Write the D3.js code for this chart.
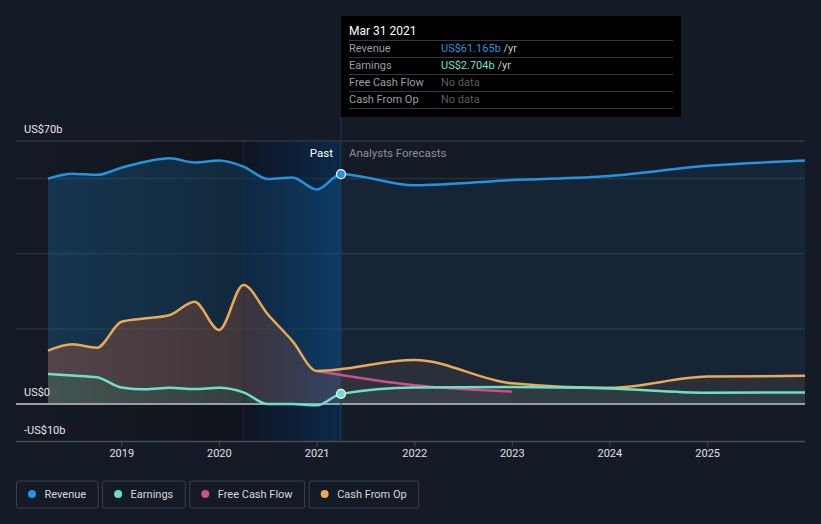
<!DOCTYPE html>
<html>
<head>
<meta charset="utf-8">
<script src="https://cdn.jsdelivr.net/npm/d3@7"></script>
<style>
  html, body { margin: 0; padding: 0; background: #151b26; }
  svg { display: block; font-family: Roboto, "Noto Sans", sans-serif; }
</style>
</head>
<body>
<svg width="821" height="524"></svg>
<script>
// Past quarters (trailing twelve months)
var pastDates = ["2018-03-31", "2018-06-30", "2018-09-30", "2018-12-31", "2019-03-31", "2019-06-30",
  "2019-09-30", "2019-12-31", "2020-03-31", "2020-06-30", "2020-09-30", "2020-12-31", "2021-03-31"];
var revenuePast = [60.0, 61.3, 61.0, 62.9, 64.5, 65.4, 64.3, 64.8, 63.2, 59.9, 60.3, 57.1, 61.165];
var earningsPast = [8.0, 7.6, 7.1, 4.4, 3.9, 4.3, 4.0, 4.3, 3.1, 0.0, 0.0, -0.35, 2.704];
var cfoPast = [14.2, 15.9, 15.0, 21.9, 22.8, 23.7, 27.2, 19.7, 31.7, 23.9, 16.8, 8.8];

// Analyst forecasts
var forecastDates = ["2021-12-31", "2022-12-31", "2023-12-31", "2024-12-31", "2025-12-31"];
var revenueForecast = [58.2, 59.6, 60.7, 63.4, 64.8];
var earningsForecast = [4.4, 4.5, 4.1, 3.0, 3.1];
var cfoForecast = [11.7, 5.5, 4.3, 7.3, 7.5];
var fcfDates = ["2020-12-31", "2021-12-31", "2022-12-31"];
var fcfForecast = [8.8, 5.0, 3.3];

var yTicks = [-10, 0, 70];
var yTickLabels = ["-US$10b", "US$0", "US$70b"];
var gridValues = [20, 40, 60];
var xTickYears = [2019, 2020, 2021, 2022, 2023, 2024, 2025];

var colors = {revenue: "#2394df", earnings: "#6fe0c8", fcf: "#d04e8a", cfo: "#e9a957"};

var parse = d3.timeParse("%Y-%m-%d");
var nowDate = parse("2021-03-31");
var bandStart = parse("2020-03-31");

function series(dates, values) {
  return dates.map(function(d, i) { return {date: parse(d), value: values[i]}; });
}

var revenue = series(pastDates.concat(forecastDates), revenuePast.concat(revenueForecast));
var earnings = series(pastDates.concat(forecastDates), earningsPast.concat(earningsForecast));
var cfo = series(pastDates.slice(0, cfoPast.length).concat(forecastDates), cfoPast.concat(cfoForecast));
var fcf = series(fcfDates, fcfForecast);

var svg = d3.select("svg");
var left = 16, right = 805;

var x = d3.scaleTime()
  .domain([parse("2018-03-31"), parse("2025-12-31")])
  .range([48, 805]);
var y = d3.scaleLinear().domain([-10, 70]).range([441.6, 141]);

var defs = svg.append("defs");
defs.append("clipPath").attr("id", "pastClip").append("rect")
  .attr("x", 0).attr("y", 0).attr("width", x(nowDate)).attr("height", 524);
defs.append("clipPath").attr("id", "futureClip").append("rect")
  .attr("x", x(nowDate)).attr("y", 0).attr("width", 821 - x(nowDate)).attr("height", 524);

var darkGrad = defs.append("linearGradient").attr("id", "darkGrad");
darkGrad.append("stop").attr("offset", "0%").attr("stop-color", "#000").attr("stop-opacity", 0.04);
darkGrad.append("stop").attr("offset", "100%").attr("stop-color", "#000").attr("stop-opacity", 0.28);

var bandGrad = defs.append("linearGradient").attr("id", "bandGrad");
bandGrad.append("stop").attr("offset", "0%").attr("stop-color", "rgb(0,10,30)").attr("stop-opacity", 0.35);
bandGrad.append("stop").attr("offset", "100%").attr("stop-color", "rgb(0,62,125)").attr("stop-opacity", 0.42);

// gridlines
svg.selectAll(".grid")
  .data(gridValues)
  .enter()
  .append("line")
    .attr("class", "grid")
    .attr("x1", left).attr("x2", right)
    .attr("y1", function(d) { return y(d); })
    .attr("y2", function(d) { return y(d); })
    .attr("stroke", "#25303d")
    .attr("stroke-width", 1.5);

var area = function(data) {
  return d3.area()
    .x(function(d) { return x(d.date); })
    .y0(y(0))
    .y1(function(d) { return y(d.value); })
    .curve(d3.curveMonotoneX)(data);
};
var line = d3.line()
  .x(function(d) { return x(d.date); })
  .y(function(d) { return y(d.value); })
  .curve(d3.curveMonotoneX);

// past areas
var past = svg.append("g").attr("clip-path", "url(#pastClip)");
past.append("path").attr("d", area(revenue)).attr("fill", colors.revenue).attr("opacity", 0.25);
past.append("path").attr("d", area(cfo)).attr("fill", "#d46a48").attr("opacity", 0.35);
past.append("path").attr("d", area(earnings)).attr("fill", "#3a6a60").attr("opacity", 0.5);

// forecast areas
var future = svg.append("g").attr("clip-path", "url(#futureClip)");
future.append("path").attr("d", area(revenue)).attr("fill", colors.revenue).attr("opacity", 0.09);
future.append("path").attr("d", area(cfo)).attr("fill", colors.cfo).attr("opacity", 0.09);
future.append("path").attr("d", area(fcf)).attr("fill", colors.fcf).attr("opacity", 0.05);
future.append("path").attr("d", area(earnings)).attr("fill", colors.earnings).attr("opacity", 0.07);

// past shading and last-year band
svg.append("rect")
  .attr("x", left).attr("y", y(70))
  .attr("width", x(bandStart) - left).attr("height", y(-10) - y(70))
  .attr("fill", "url(#darkGrad)");
svg.append("rect")
  .attr("x", x(bandStart)).attr("y", y(70))
  .attr("width", x(nowDate) - x(bandStart)).attr("height", y(-10) - y(70))
  .attr("fill", "url(#bandGrad)");
svg.append("line")
  .attr("x1", x(bandStart)).attr("x2", x(bandStart))
  .attr("y1", y(70)).attr("y2", y(-10))
  .attr("stroke", "#22324a").attr("stroke-width", 1).attr("opacity", 0.6);

// axis lines
svg.append("line")
  .attr("x1", left).attr("x2", right).attr("y1", y(70)).attr("y2", y(70))
  .attr("stroke", "#3a404a").attr("stroke-width", 1);
svg.append("line")
  .attr("x1", left).attr("x2", right).attr("y1", y(0)).attr("y2", y(0))
  .attr("stroke", "#9a9ea5").attr("stroke-width", 2);
svg.append("line")
  .attr("x1", left).attr("x2", right).attr("y1", y(-10)).attr("y2", y(-10))
  .attr("stroke", "#464b54").attr("stroke-width", 1.5);

// now line
svg.append("line")
  .attr("x1", x(nowDate)).attr("x2", x(nowDate))
  .attr("y1", 117).attr("y2", y(-10))
  .attr("stroke", "#2a3b55").attr("stroke-width", 1);

// series lines
svg.append("path").attr("d", line(fcf)).attr("fill", "none")
  .attr("stroke", colors.fcf).attr("stroke-width", 2.5);
svg.append("path").attr("d", line(cfo)).attr("fill", "none")
  .attr("stroke", colors.cfo).attr("stroke-width", 2.5);
svg.append("path").attr("d", line(earnings)).attr("fill", "none")
  .attr("stroke", colors.earnings).attr("stroke-width", 2.5);
svg.append("path").attr("d", line(revenue)).attr("fill", "none")
  .attr("stroke", colors.revenue).attr("stroke-width", 2.5);

// markers at the hovered date
var markers = [
  {value: revenuePast[revenuePast.length - 1], color: colors.revenue},
  {value: earningsPast[earningsPast.length - 1], color: colors.earnings}
];
svg.selectAll(".marker")
  .data(markers)
  .enter()
  .append("circle")
    .attr("class", "marker")
    .attr("cx", x(nowDate))
    .attr("cy", function(d) { return y(d.value); })
    .attr("r", 4.5)
    .attr("fill", function(d) { return d.color; })
    .attr("stroke", "#fff")
    .attr("stroke-width", 1.2);

// y labels
svg.selectAll(".ylab")
  .data(yTicks)
  .enter()
  .append("text")
    .attr("class", "ylab")
    .attr("x", 24)
    .attr("y", function(d) { return y(d) - 8; })
    .attr("fill", "#e6e6e6")
    .attr("font-size", 11)
    .text(function(d, i) { return yTickLabels[i]; });

// x ticks
var xTicks = xTickYears.map(function(yr) { return new Date(yr, 0, 1); });
svg.selectAll(".xtick")
  .data(xTicks)
  .enter()
  .append("line")
    .attr("class", "xtick")
    .attr("x1", function(d) { return x(d); })
    .attr("x2", function(d) { return x(d); })
    .attr("y1", y(-10)).attr("y2", y(-10) + 5)
    .attr("stroke", "#464b54");
svg.selectAll(".xlab")
  .data(xTicks)
  .enter()
  .append("text")
    .attr("class", "xlab")
    .attr("x", function(d) { return x(d); })
    .attr("y", 457)
    .attr("text-anchor", "middle")
    .attr("fill", "#e0e0e0")
    .attr("font-size", 11)
    .text(d3.timeFormat("%Y"));

// past / forecast labels
svg.append("text")
  .attr("x", x(nowDate) - 8).attr("y", 157)
  .attr("text-anchor", "end").attr("fill", "#fff").attr("font-size", 11.5)
  .text("Past");
svg.append("text")
  .attr("x", x(nowDate) + 8).attr("y", 157)
  .attr("fill", "#8b9099").attr("font-size", 11.5)
  .text("Analysts Forecasts");

// tooltip
var tip = svg.append("g");
tip.append("rect")
  .attr("x", 341).attr("y", 16).attr("width", 340).attr("height", 101)
  .attr("fill", "#000");
tip.append("text")
  .attr("x", 349).attr("y", 35).attr("fill", "#fff").attr("font-size", 12)
  .text("Mar 31 2021");
var rows = [
  {label: "Revenue", value: "US$61.165b", color: colors.revenue, unit: " /yr"},
  {label: "Earnings", value: "US$2.704b", color: colors.earnings, unit: " /yr"},
  {label: "Free Cash Flow", value: "No data", color: "#5a5e66", unit: ""},
  {label: "Cash From Op", value: "No data", color: "#5a5e66", unit: ""}
];
[40.5, 57.5, 74.5, 91.5, 108.5].forEach(function(ly) {
  tip.append("line")
    .attr("x1", 349).attr("x2", 673).attr("y1", ly).attr("y2", ly)
    .attr("stroke", "#333740").attr("stroke-width", 1);
});
rows.forEach(function(r, i) {
  var by = 52 + i * 17;
  tip.append("text")
    .attr("x", 349).attr("y", by).attr("fill", "#9a9ea6").attr("font-size", 11)
    .text(r.label);
  var t = tip.append("text")
    .attr("x", 441).attr("y", by).attr("font-size", 11);
  t.append("tspan").attr("fill", r.color).text(r.value);
  t.append("tspan").attr("fill", "#c8c8c8").text(r.unit);
});

// legend
var legendItems = [
  {label: "Revenue", color: colors.revenue},
  {label: "Earnings", color: colors.earnings},
  {label: "Free Cash Flow", color: colors.fcf},
  {label: "Cash From Op", color: colors.cfo}
];
var lx = 16.5;
legendItems.forEach(function(item) {
  var g = svg.append("g");
  var box = g.append("rect")
    .attr("x", lx).attr("y", 481).attr("height", 27).attr("rx", 2)
    .attr("fill", "none").attr("stroke", "#3b4049").attr("stroke-width", 1);
  g.append("circle")
    .attr("cx", lx + 15.5).attr("cy", 494).attr("r", 4)
    .attr("fill", item.color);
  var txt = g.append("text")
    .attr("x", lx + 28).attr("y", 498).attr("fill", "#d6d8dc").attr("font-size", 11)
    .text(item.label);
  var w = 28 + txt.node().getComputedTextLength() + 12;
  box.attr("width", w);
  lx += w + 4.5;
});
</script>
</body>
</html>
